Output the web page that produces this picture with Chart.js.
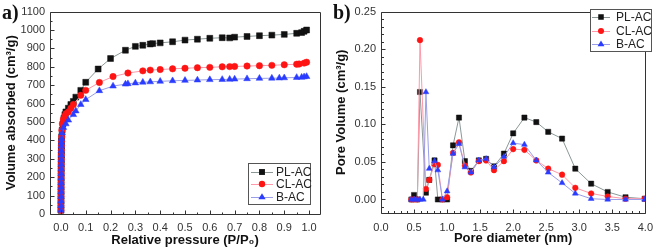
<!DOCTYPE html>
<html><head><meta charset="utf-8">
<script src="https://cdn.jsdelivr.net/npm/chart.js@4.4.0/dist/chart.umd.min.js"></script>
<style>
html,body{margin:0;padding:0;background:#fff;}
#wrap{position:relative;width:661px;height:251px;overflow:hidden;background:#fff;}
.panel{position:absolute;top:0;height:251px;}
#pa{left:0;width:330px;} #pb{left:330px;width:331px;}
.lbl{position:absolute;font-family:"Liberation Serif","DejaVu Serif",serif;font-weight:bold;font-size:20px;color:#111;top:0px;line-height:24px;}
</style></head>
<body><div id="wrap">
<div class="panel" id="pa"><canvas id="ca" width="330" height="251"></canvas></div>
<div class="panel" id="pb"><canvas id="cb" width="331" height="251"></canvas></div>
<div class="lbl" style="left:2px">a)</div>
<div class="lbl" style="left:333px">b)</div>
</div>
<script>
// ---------- Panel a: N2 isotherms ----------
const seriesNames = ['PL-AC', 'CL-AC', 'B-AC'];
const isoP_PL = [0.0001,0.0002,0.0003,0.0004,0.0005,0.0006,0.0007,0.0008,0.0009,0.001,0.0012,0.0014,0.0016,0.0018,0.002,0.0025,0.003,0.005,0.008,0.012,0.016,0.02,0.03,0.04,0.05,0.06,0.08,0.1,0.15,0.2,0.26,0.3,0.33,0.36,0.37,0.4,0.45,0.5,0.55,0.6,0.65,0.68,0.7,0.75,0.8,0.85,0.9,0.95,0.97,0.98,0.99];
const isoV_PL = [20,45,70,95,120,145,170,195,220,245,270,295,320,345,370,395,420,455,490,520,540,555,575,595,612,635,672,716,788,845,890,911,917,924,926,930,936,945,950,955,958,957,961,965,969,972,976,982,986,993,1000];
const isoP_CL = [0.0001,0.0002,0.0003,0.0004,0.0005,0.0006,0.0007,0.0008,0.0009,0.001,0.0012,0.0014,0.0016,0.0018,0.002,0.0025,0.003,0.004,0.006,0.01,0.015,0.02,0.03,0.04,0.05,0.08,0.1,0.155,0.21,0.27,0.33,0.36,0.4,0.45,0.5,0.55,0.6,0.65,0.68,0.7,0.75,0.8,0.85,0.9,0.95,0.96,0.98,0.99];
const isoV_CL = [20,45,70,95,120,145,170,195,220,245,270,295,320,345,370,395,420,455,490,515,530,545,555,575,595,645,672,715,747,766,778,782,785,789,792,795,797,800,801,802,804,806,808,811,814,815,820,825];
const isoP_B = [0.0001,0.0002,0.0003,0.0004,0.0005,0.0006,0.0007,0.0008,0.0009,0.001,0.0012,0.0014,0.0016,0.0018,0.002,0.0025,0.003,0.005,0.01,0.02,0.03,0.05,0.06,0.08,0.1,0.155,0.21,0.26,0.27,0.3,0.33,0.36,0.4,0.45,0.5,0.55,0.6,0.65,0.68,0.7,0.75,0.8,0.85,0.88,0.9,0.95,0.97,0.98,0.99];
const isoV_B = [20,45,70,95,120,145,170,195,220,245,270,295,320,345,370,390,410,440,470,490,510,540,560,595,622,670,695,706,708,712,716,718,721,724,726,728,730,731,732,733,735,737,738,739,740,742,743,745,747];
const xTicksA = [0.0,0.1,0.2,0.3,0.4,0.5,0.6,0.7,0.8,0.9,1.0];
const yTicksA = [0,100,200,300,400,500,600,700,800,900,1000,1100];

// ---------- Panel b: pore size distribution ----------
const pdX_PL = [0.46,0.50,0.55,0.59,0.68,0.73,0.81,0.86,0.93,1.00,1.09,1.18,1.27,1.36,1.48,1.59,1.71,1.86,2.00,2.17,2.35,2.53,2.74,2.94,3.18,3.43,3.70,3.99];
const pdY_PL = [0,0.006,0,0.143,0.009,0.026,0.052,0,0,0,0.072,0.109,0.051,0.038,0.052,0.054,0.044,0.061,0.088,0.109,0.103,0.090,0.081,0.041,0.021,0.010,0.003,0.001];
const pdX_CL = [0.46,0.50,0.55,0.59,0.68,0.73,0.81,0.86,0.93,1.00,1.09,1.18,1.27,1.36,1.48,1.59,1.71,1.86,2.00,2.17,2.35,2.53,2.74,2.94,3.18,3.43,3.70,3.99];
const pdY_CL = [0,0,0,0.212,0.014,0.026,0.047,0.046,0,0.003,0.062,0.076,0.045,0.036,0.051,0.052,0.039,0.051,0.067,0.066,0.052,0.041,0.033,0.0155,0.008,0.004,0.001,0.001];
const pdX_B = [0.46,0.50,0.55,0.59,0.64,0.68,0.73,0.81,0.86,0.93,1.00,1.09,1.18,1.27,1.36,1.48,1.59,1.71,1.86,2.00,2.17,2.35,2.53,2.74,2.94,3.18,3.43,3.70,3.99];
const pdY_B = [0,0,0,0,0,0.143,0.041,0.051,0.039,0,0.011,0.061,0.074,0.043,0.036,0.052,0.054,0.043,0.057,0.075,0.073,0.052,0.036,0.022,0.008,0.001,0,0,0];
const xTicksB = [0.0,0.5,1.0,1.5,2.0,2.5,3.0,3.5,4.0];
const yTicksB = [0.00,0.05,0.10,0.15,0.20,0.25];

const FONT = '"Liberation Sans", Arial, Helvetica, sans-serif';
const sty = {
  'PL-AC': {marker:'rect', fill:'#111111', line:'#8c9898'},
  'CL-AC': {marker:'circle', fill:'#ff1414', line:'#ff98a8'},
  'B-AC':  {marker:'triangle', fill:'#2a3cff', line:'#9a9ee8'}
};
const pts = (xs, ys) => xs.map((x, i) => ({x: x, y: ys[i]}));

function ds(name, xs, ys, order, r) {
  const s = sty[name];
  const rad = s.marker === 'rect' ? r * 1.3 : (s.marker === 'triangle' ? r * 1.2 : r);
  return {label:name, data:pts(xs, ys), order:order, borderColor:s.line, borderWidth:1,
    pointStyle:s.marker, pointRadius:rad, pointBackgroundColor:s.fill, pointBorderColor:s.fill,
    pointBorderWidth:0.5, tension:0, fill:false};
}

function drawMarker(ctx, kind, x, y, r, color) {
  ctx.fillStyle = color;
  ctx.beginPath();
  if (kind === 'rect') { const s = r * 0.92; ctx.rect(x - s, y - s, 2 * s, 2 * s); }
  else if (kind === 'circle') { ctx.arc(x, y, r, 0, Math.PI * 2); }
  else { const h = r * 1.2; ctx.moveTo(x, y - h); ctx.lineTo(x + h * 0.95, y + h * 0.6); ctx.lineTo(x - h * 0.95, y + h * 0.6); ctx.closePath(); }
  ctx.fill();
}

const frameTicks = {
  id: 'frameTicks',
  afterDraw(chart, args, o) {
    const {ctx, chartArea: a, scales: {x, y}} = chart;
    ctx.save();
    ctx.strokeStyle = o.color; ctx.lineWidth = 1;
    const L = Math.round(a.left) + 0.5, R = Math.round(a.right) + 0.5, T = Math.round(a.top) + 0.5, B = Math.round(a.bottom) + 0.5;
    ctx.beginPath();
    ctx.rect(L, T, R - L, B - T);
    const doAxis = (sc, n, isX) => {
      const t = sc.ticks.map(k => k.value);
      const step = (t[1] - t[0]) / n;
      const vals = [];
      for (let v = t[0] - step; v >= sc.min - 1e-9; v -= step) vals.push([v, false]);
      for (let i = 0; i < t.length; i++) {
        vals.push([t[i], true]);
        for (let k = 1; k < n; k++) { const v = t[i] + k * step; if (v <= sc.max + 1e-9) vals.push([v, false]); }
      }
      vals.forEach(([v, major]) => {
        const len = major ? o.major : o.minor;
        const p = Math.round(sc.getPixelForValue(v)) + 0.5;
        if (isX) { ctx.moveTo(p, B); ctx.lineTo(p, B - len); }
        else { ctx.moveTo(L, p); ctx.lineTo(L + len, p); }
      });
    };
    doAxis(x, o.xMinor, true);
    doAxis(y, o.yMinor, false);
    ctx.stroke();
    ctx.restore();
  }
};

const boxLegend = {
  id: 'boxLegend',
  afterDraw(chart, args, o) {
    const ctx = chart.ctx;
    ctx.save();
    ctx.fillStyle = '#fff';
    ctx.fillRect(o.x, o.y, o.w, o.h);
    ctx.strokeStyle = '#555'; ctx.lineWidth = 1;
    ctx.strokeRect(o.x + 0.5, o.y + 0.5, o.w, o.h);
    seriesNames.forEach((name, i) => {
      const s = sty[name];
      const yy = o.y + o.rows[i];
      ctx.strokeStyle = s.line; ctx.lineWidth = 1;
      ctx.beginPath(); ctx.moveTo(o.x + o.l0, yy + 0.5); ctx.lineTo(o.x + o.l1, yy + 0.5); ctx.stroke();
      drawMarker(ctx, s.marker, o.x + (o.l0 + o.l1) / 2, yy, o.r, s.fill);
      ctx.fillStyle = '#222';
      ctx.font = o.font + 'px ' + FONT;
      ctx.textBaseline = 'middle';
      ctx.fillText(name, o.x + o.tx, yy + 1);
    });
    ctx.restore();
  }
};

function axisCommon(ticksArr, fmt, pad) {
  return {
    type: 'linear',
    grid: {display: false, drawTicks: false},
    border: {display: false},
    afterBuildTicks: s => { s.ticks = ticksArr.map(v => ({value: v})); },
    ticks: {callback: v => fmt(v), font: {family: FONT, size: 11}, color: '#333', padding: pad, maxRotation: 0, autoSkip: false}
  };
}

// Panel a
new Chart(document.getElementById('ca'), {
  type: 'line',
  data: {datasets: [
    ds('PL-AC', isoP_PL, isoV_PL, 2, 3.2),
    ds('CL-AC', isoP_CL, isoV_CL, 1, 3.2),
    ds('B-AC', isoP_B, isoV_B, 0, 3.2)
  ]},
  options: {
    responsive: false, animation: false, devicePixelRatio: 1,
    layout: {padding: {top: 7, right: 10, left: 0, bottom: 0}},
    plugins: {legend: {display: false}, tooltip: {enabled: false},
      frameTicks: {color: '#333', major: 4, minor: 2, xMinor: 2, yMinor: 2},
      boxLegend: {x: 248, y: 163, w: 62, h: 41, rows: [9, 21, 34], l0: 3, l1: 25, tx: 28, r: 3.2, font: 12}
    },
    scales: {
      x: Object.assign(axisCommon(xTicksA, v => v.toFixed(1), 7), {
        min: -0.044, max: 1.044,
        title: {display: true, text: 'Relative pressure (P/P\u2080)', font: {family: FONT, size: 13, weight: 'bold'}, color: '#111', padding: {top: 0, bottom: 3}},
        afterFit: s => { s.height = 37; }
      }),
      y: Object.assign(axisCommon(yTicksA, v => String(v), 5), {
        min: 0, max: 1100,
        title: {display: true, text: 'Volume absorbed (cm\u00b3/g)', font: {family: FONT, size: 13, weight: 'bold'}, color: '#111', padding: {top: 4, bottom: 0}},
        afterFit: s => { s.width = 50; }
      })
    }
  },
  plugins: [frameTicks, boxLegend]
});

// Panel b
new Chart(document.getElementById('cb'), {
  type: 'line',
  data: {datasets: [
    ds('PL-AC', pdX_PL, pdY_PL, 2, 2.8),
    ds('CL-AC', pdX_CL, pdY_CL, 1, 2.8),
    ds('B-AC', pdX_B, pdY_B, 0, 2.8)
  ]},
  options: {
    responsive: false, animation: false, devicePixelRatio: 1,
    layout: {padding: {top: 7, right: 9, left: 0, bottom: 0}},
    plugins: {legend: {display: false}, tooltip: {enabled: false},
      frameTicks: {color: '#333', major: 4, minor: 2.5, xMinor: 5, yMinor: 5},
      boxLegend: {x: 260, y: 9, w: 61, h: 42, rows: [8, 22, 35], l0: 2, l1: 20, tx: 26, r: 3, font: 12}
    },
    scales: {
      x: Object.assign(axisCommon(xTicksB, v => v.toFixed(1), 8), {
        min: 0, max: 4,
        title: {display: true, text: 'Pore diameter (nm)', font: {family: FONT, size: 13, weight: 'bold'}, color: '#111', padding: {top: 0, bottom: 5}},
        afterFit: s => { s.height = 38; }
      }),
      y: Object.assign(axisCommon(yTicksB, v => v.toFixed(2), 5), {
        min: -0.018, max: 0.25,
        title: {display: true, text: 'Pore Volume (cm\u00b3/g)', font: {family: FONT, size: 13, weight: 'bold'}, color: '#111', padding: {top: 4, bottom: 0}},
        afterFit: s => { s.width = 51; }
      })
    }
  },
  plugins: [frameTicks, boxLegend]
});
</script>
</body></html>
